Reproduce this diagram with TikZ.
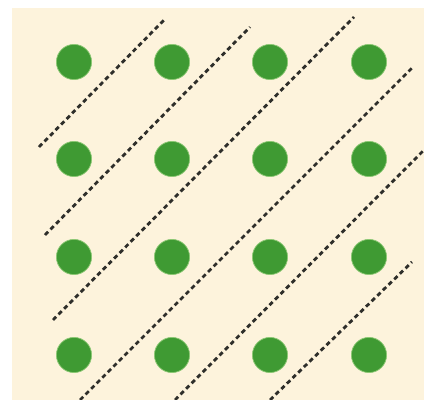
\documentclass[tikz,border=0pt]{standalone}
\usepackage{tikz}
\usetikzlibrary{positioning}
\definecolor{lt-paper}{HTML}{FDF3DC}
\definecolor{lt-atom}{HTML}{3F9A33}
\definecolor{lt-halo}{HTML}{8CC874}
\definecolor{lt-line}{HTML}{2E2E2A}
\begin{document}
\begin{tikzpicture}[
    x=0.025cm, y=-0.025cm,
    % lattice point and lattice plane styles
    atom/.style={circle, fill=lt-atom, draw=lt-halo, line width=0.5pt, minimum size=0.88cm, inner sep=0pt},
    plane/.style={lt-line, line width=2pt, dash pattern=on 3.2pt off 2.4pt}
  ]
  \useasboundingbox (0,0) rectangle (424,400);

  % =========================================================================
  % BACKGROUND
  % =========================================================================
  \fill[lt-paper] (12,8) rectangle (424,400);

  % =========================================================================
  % 4x4 LATTICE POINTS
  % =========================================================================
  \foreach \i/\x in {0/74,1/172,2/270,3/369} {
    \foreach \j/\y in {0/62,1/159,2/257,3/355} {
      \node[atom] (p-\i-\j) at (\x,\y) {};
    }
  }

  % =========================================================================
  % DASHED LATTICE PLANES
  % =========================================================================
  \draw[plane] (39,147) -- (166,18);
  \draw[plane] (45,235) -- (250,27);
  \draw[plane] (53,320) -- (354,17);
  \draw[plane] (80,400) -- (413,67);
  \draw[plane] (175,400) -- (424,150);
  \draw[plane] (270,400) -- (412,262);

\end{tikzpicture}
\end{document}
